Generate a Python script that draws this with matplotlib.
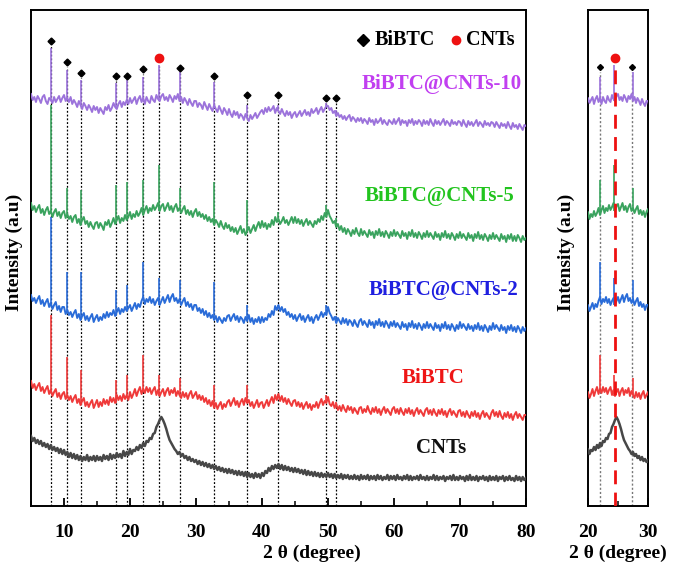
import numpy as np
import matplotlib
matplotlib.use("Agg")
import matplotlib.pyplot as plt
from matplotlib.ticker import MultipleLocator

plt.rcParams['font.family'] = ['Liberation Serif', 'DejaVu Serif']
plt.rcParams['font.weight'] = 'bold'

# 2-theta grid (degrees), 0.25 deg step
two_theta = np.arange(5.0, 80.001, 0.25)

# stacked intensities (a.u., offsets included); rows = 5 degrees
cnts = [70, 65, 68, 63, 66, 62, 65, 60, 63, 59, 62, 57, 61, 56, 59, 55, 58, 53, 57, 52,
        56, 51, 54, 49, 53, 48, 52, 47, 51, 46, 50, 45, 49, 46, 51, 45, 49, 46, 50, 45,
        50, 46, 49, 45, 51, 47, 50, 46, 52, 47, 51, 48, 53, 49, 52, 48, 55, 50, 54, 51,
        57, 52, 56, 55, 59, 56, 61, 58, 63, 60, 65, 64, 68, 67, 72, 73, 79, 82, 86, 89,
        86, 82, 77, 71, 66, 63, 60, 57, 55, 52, 54, 50, 52, 48, 50, 46, 49, 45, 47, 44,
        46, 42, 45, 41, 44, 40, 43, 39, 42, 38, 41, 37, 40, 36, 39, 35, 38, 34, 37, 33,
        37, 33, 36, 32, 35, 31, 35, 31, 34, 30, 34, 29, 33, 29, 32, 28, 33, 29, 32, 28,
        33, 30, 35, 33, 38, 35, 40, 37, 41, 38, 42, 37, 41, 36, 40, 36, 39, 35, 38, 34,
        38, 34, 37, 33, 36, 32, 36, 31, 35, 31, 34, 30, 34, 30, 33, 29, 33, 29, 32, 29,
        33, 29, 32, 28, 32, 28, 31, 28, 32, 27, 31, 28, 31, 27, 30, 27, 31, 27, 30, 26,
        31, 27, 30, 27, 31, 26, 30, 27, 30, 26, 31, 27, 30, 26, 29, 27, 31, 26, 30, 27,
        30, 26, 31, 27, 29, 26, 30, 27, 31, 26, 30, 26, 29, 27, 30, 26, 31, 27, 29, 26,
        30, 26, 29, 27, 31, 26, 30, 26, 29, 27, 30, 25, 29, 27, 30, 26, 31, 26, 29, 26,
        30, 27, 29, 25, 30, 26, 31, 26, 29, 26, 30, 25, 29, 27, 30, 26, 29, 25, 30, 26,
        29, 26, 30, 25, 29, 27, 30, 25, 29, 26, 30, 26, 28, 25, 30, 26, 29, 25, 29, 26,
        28]

bibtc = [125, 118, 122, 116, 120, 123, 115, 119, 113, 117, 120, 112, 116, 110, 114, 117, 109, 113, 107, 112,
         114, 107, 111, 106, 110, 104, 108, 111, 103, 107, 101, 105, 108, 100, 104, 99, 103, 106, 98, 102,
         106, 99, 104, 100, 107, 102, 106, 101, 109, 104, 108, 103, 111, 106, 110, 105, 112, 107, 111, 106,
         114, 108, 112, 117, 110, 115, 119, 112, 117, 113, 119, 114, 118, 112, 116, 119, 111, 116, 110, 114,
         117, 110, 115, 118, 111, 116, 113, 118, 110, 115, 111, 108, 114, 109, 113, 107, 112, 115, 108, 111,
         114, 107, 111, 106, 110, 104, 108, 102, 106, 100, 105, 98, 103, 97, 101, 104, 97, 102, 99, 104,
         106, 100, 104, 108, 101, 105, 99, 104, 107, 101, 108, 103, 106, 100, 104, 98, 102, 106, 99, 103,
         104, 98, 102, 106, 100, 105, 109, 103, 111, 106, 112, 105, 110, 104, 108, 102, 107, 103, 100, 105,
         106, 100, 104, 99, 103, 97, 101, 104, 98, 102, 96, 101, 99, 104, 98, 103, 107, 101, 105, 103,
         109, 102, 100, 104, 98, 102, 96, 100, 95, 101, 97, 94, 100, 96, 99, 93, 98, 95, 92, 98,
         99, 93, 97, 94, 100, 95, 92, 98, 94, 99, 93, 97, 91, 96, 99, 93, 97, 94, 91, 97,
         99, 93, 97, 92, 98, 94, 91, 97, 93, 98, 92, 96, 90, 95, 98, 92, 96, 93, 90, 96,
         98, 92, 96, 91, 97, 93, 90, 96, 92, 97, 91, 95, 89, 94, 97, 91, 95, 92, 89, 95,
         96, 90, 94, 89, 95, 91, 88, 94, 90, 95, 89, 93, 87, 92, 95, 89, 93, 90, 87, 93,
         96, 90, 94, 89, 95, 90, 87, 93, 89, 94, 88, 92, 86, 91, 94, 88, 92, 89, 86, 91,
         91]

cnts2 = [211, 205, 208, 203, 207, 210, 202, 206, 200, 204, 207, 199, 203, 197, 201, 204, 196, 200, 194, 199,
         199, 192, 196, 191, 194, 189, 193, 196, 188, 192, 186, 190, 193, 186, 190, 185, 189, 192, 184, 188,
         191, 185, 189, 186, 192, 188, 194, 189, 193, 191, 196, 190, 194, 198, 192, 197, 194, 199, 195, 198,
         201, 195, 199, 203, 197, 202, 199, 205, 209, 202, 207, 204, 209, 203, 207, 201, 205, 208, 201, 205,
         209, 203, 207, 211, 204, 209, 212, 205, 208, 203, 207, 201, 205, 208, 200, 204, 199, 202, 196, 201,
         201, 195, 198, 193, 197, 191, 195, 189, 193, 188, 191, 186, 190, 184, 189, 186, 183, 188, 185, 190,
         191, 185, 189, 192, 186, 190, 184, 189, 187, 183, 189, 185, 191, 184, 188, 182, 187, 184, 189, 183,
         189, 184, 188, 186, 192, 189, 195, 191, 200, 196, 201, 195, 199, 194, 197, 191, 194, 189, 192, 187,
         191, 185, 189, 192, 186, 190, 184, 188, 191, 185, 189, 183, 188, 191, 186, 190, 194, 189, 193, 191,
         199, 193, 190, 186, 189, 183, 188, 185, 182, 188, 183, 187, 181, 186, 184, 180, 186, 182, 179, 185,
         187, 181, 185, 182, 179, 186, 181, 184, 178, 185, 181, 187, 180, 184, 179, 185, 182, 178, 184, 180,
         185, 179, 183, 180, 177, 184, 179, 182, 176, 183, 179, 185, 178, 182, 177, 183, 180, 176, 182, 178,
         184, 178, 182, 179, 176, 183, 178, 181, 175, 182, 178, 184, 177, 181, 176, 182, 179, 175, 181, 177,
         184, 178, 182, 179, 176, 182, 177, 180, 175, 181, 177, 183, 176, 180, 175, 181, 178, 174, 180, 176,
         183, 177, 181, 178, 175, 181, 176, 179, 173, 180, 176, 181, 175, 179, 174, 180, 177, 173, 179, 175,
         178]

cnts5 = [303, 296, 300, 294, 298, 301, 293, 297, 291, 296, 299, 292, 295, 289, 294, 297, 290, 294, 288, 293,
         295, 288, 292, 287, 290, 284, 289, 291, 283, 287, 281, 286, 289, 282, 285, 279, 284, 280, 277, 283,
         284, 278, 283, 280, 276, 284, 281, 286, 279, 283, 288, 282, 286, 290, 283, 288, 285, 291, 286, 289,
         294, 287, 292, 289, 295, 290, 293, 298, 291, 296, 300, 293, 298, 295, 301, 296, 299, 303, 295, 300,
         302, 295, 299, 303, 296, 300, 294, 299, 302, 295, 298, 293, 297, 300, 292, 296, 291, 295, 289, 294,
         297, 290, 294, 289, 292, 287, 291, 285, 289, 284, 287, 281, 286, 283, 279, 285, 280, 277, 283, 278,
         281, 275, 279, 274, 278, 272, 276, 280, 273, 277, 271, 275, 279, 273, 277, 281, 275, 280, 284, 278,
         285, 279, 283, 277, 282, 279, 286, 281, 289, 284, 287, 282, 285, 289, 283, 286, 281, 285, 289, 283,
         289, 283, 287, 282, 286, 280, 284, 287, 281, 285, 282, 279, 285, 282, 287, 284, 290, 286, 293, 289,
         296, 290, 287, 283, 285, 279, 282, 276, 280, 274, 278, 272, 277, 274, 270, 276, 272, 278, 273, 270,
         277, 271, 275, 272, 269, 276, 271, 274, 268, 275, 271, 277, 270, 274, 269, 275, 272, 268, 274, 270,
         276, 270, 274, 271, 268, 275, 270, 273, 267, 274, 270, 276, 269, 273, 268, 274, 271, 267, 273, 269,
         275, 269, 273, 270, 267, 274, 269, 272, 266, 273, 269, 275, 268, 272, 267, 273, 270, 266, 272, 268,
         274, 268, 272, 269, 266, 273, 268, 271, 265, 272, 268, 274, 267, 271, 266, 272, 269, 265, 271, 267,
         273, 267, 271, 268, 265, 272, 267, 270, 264, 271, 267, 272, 265, 270, 265, 271, 268, 264, 270, 266,
         268]

cnts10 = [412, 406, 409, 404, 410, 407, 403, 409, 411, 405, 402, 408, 406, 403, 409, 404, 407, 410, 404, 408,
          411, 405, 408, 404, 409, 402, 406, 403, 399, 405, 401, 397, 403, 400, 396, 401, 398, 394, 400, 396,
          399, 393, 398, 395, 392, 399, 396, 401, 395, 398, 403, 399, 397, 402, 405, 399, 404, 401, 406, 402,
          408, 403, 406, 409, 402, 407, 410, 404, 408, 402, 409, 405, 403, 410, 406, 404, 411, 407, 405, 410,
          412, 406, 409, 405, 411, 408, 404, 410, 407, 412, 405, 409, 403, 408, 405, 401, 407, 403, 400, 405,
          405, 399, 403, 401, 397, 404, 400, 396, 402, 398, 395, 401, 397, 394, 400, 396, 392, 398, 395, 391,
          397, 392, 389, 395, 391, 394, 388, 392, 390, 386, 392, 388, 385, 391, 387, 390, 393, 388, 391, 394,
          396, 392, 398, 394, 399, 395, 397, 400, 393, 398, 395, 392, 397, 393, 390, 395, 391, 394, 388, 392,
          394, 389, 392, 395, 390, 393, 396, 391, 394, 390, 397, 393, 395, 398, 392, 396, 399, 394, 397, 400,
          400, 396, 398, 393, 395, 390, 393, 389, 391, 387, 390, 386, 389, 391, 385, 389, 387, 384, 388, 385,
          388, 383, 387, 385, 382, 388, 384, 386, 381, 387, 383, 385, 388, 382, 386, 383, 381, 386, 384, 382,
          387, 382, 385, 388, 381, 386, 383, 385, 380, 386, 383, 387, 381, 385, 382, 386, 384, 380, 386, 382,
          385, 381, 387, 383, 380, 386, 382, 385, 381, 384, 387, 381, 385, 383, 380, 386, 382, 384, 381, 385,
          384, 380, 386, 382, 379, 385, 381, 384, 380, 383, 386, 380, 384, 382, 379, 385, 381, 383, 380, 384,
          383, 379, 384, 381, 378, 383, 380, 382, 378, 384, 380, 377, 383, 379, 381, 377, 382, 379, 376, 381,
          380]

# reflection positions (deg)
bibtc_peaks = [8.0, 10.4, 12.5, 17.85, 19.6, 21.95, 27.5, 32.8, 37.7, 42.4, 49.7, 51.2]
cnt_peak = 24.4
spike_pos = [8.0, 10.4, 12.5, 17.85, 19.6, 21.95, 24.4, 27.5, 32.8, 37.7, 42.4, 49.7, 51.2]
# spike tops per sample
top10 = [458, 436, 426, 423, 426, 429, 441, 434, 424, 401, 401, 403, 396]
top5 = [401, 318, 316, 321, 324, 326, 341, 318, 324, 306, 294, 301, 288]
top2 = [289, 234, 234, 216, 221, 244, 228, 226, 224, 201, 200, 201, 190]
top0 = [191, 149, 136, 126, 131, 151, 131, 128, 121, 121, 110, 111, 104]
# marker heights
bibtc_mark = [465, 444, 433, 430, 430, 437, 438, 430, 411, 411, 408, 408]
cnt_mark = 448
inset_peaks = [21.95, 27.4]
inset_mark = [439, 439]

series = [
    ("BiBTC@CNTs-10", cnts10, top10, "#9c73db", "#c13ff0", 1.4),
    ("BiBTC@CNTs-5", cnts5, top5, "#3aa35e", "#22c41e", 1.4),
    ("BiBTC@CNTs-2", cnts2, top2, "#2a6cd8", "#1f1fe0", 1.4),
    ("BiBTC", bibtc, top0, "#ef3a3a", "#ee1515", 1.4),
    ("CNTs", cnts, None, "#474747", "#111111", 1.8),
]
label_pos = [(0.830, 0.850), (0.826, 0.625), (0.834, 0.4355), (0.812, 0.258), (0.828, 0.117)]

fig = plt.figure(figsize=(6.85, 5.75), dpi=100)
ax = fig.add_axes([31/685, 69/575, 495/685, 496/575])
ax2 = fig.add_axes([588/685, 69/575, 60/685, 496/575])

x = np.asarray(two_theta)
for a in (ax, ax2):
    for name, y, tops, c, lc, lw in series:
        y = np.asarray(y, dtype=float)
        a.plot(x, y, color=c, lw=lw, zorder=3)
        if tops is not None:
            base = [y[np.abs(x - p).argmin()] for p in spike_pos]
            a.vlines(spike_pos, base, tops, color=c, lw=1.2, zorder=3)
    a.set_ylim(0, 496)
    a.set_yticks([])
    for s in a.spines.values():
        s.set_linewidth(1.4)
    a.tick_params(axis='x', direction='in', length=6, width=1.3, labelsize=14, pad=13)
    a.tick_params(axis='x', which='minor', direction='in', length=3.5, width=1.1)

# main panel decorations
ax.vlines(bibtc_peaks, 0, np.asarray(bibtc_mark) - 5, colors='black', linestyles=(0, (1.5, 1.5)), lw=0.9, zorder=2)
ax.vlines([cnt_peak], 0, cnt_mark - 8, colors='black', linestyles=(0, (1.5, 1.5)), lw=0.9, zorder=2)
ax.plot(bibtc_peaks, bibtc_mark, 'D', color='black', ms=3.5, zorder=4)
ax.plot([cnt_peak], [cnt_mark], 'o', color='#ee1111', ms=6, zorder=4)
ax.set_xlim(5, 80)
ax.xaxis.set_major_locator(MultipleLocator(10))
ax.xaxis.set_minor_locator(MultipleLocator(5))

for (name, y, tops, c, lc, lw), (px, py) in zip(series, label_pos):
    ax.text(px, py, name, transform=ax.transAxes, color=lc, fontsize=15,
            fontweight='bold', ha='center', va='center')

# legend
ax.plot([0.6707], [0.9395], 'D', color='black', ms=6, transform=ax.transAxes, clip_on=False)
ax.text(0.695, 0.9395, "BiBTC", transform=ax.transAxes, fontsize=14.5, fontweight='bold', va='center')
ax.plot([0.8586], [0.9395], 'o', color='#ee1111', ms=6, transform=ax.transAxes, clip_on=False)
ax.text(0.8788, 0.9395, "CNTs", transform=ax.transAxes, fontsize=14.5, fontweight='bold', va='center')

# inset panel decorations
ax2.vlines(inset_peaks, 0, np.asarray(inset_mark) - 5, colors='#777777', linestyles=(0, (1.5, 1.5)), lw=1.0, zorder=2)
ax2.vlines([24.5], 0, cnt_mark - 8, colors='#ee1111', linestyles=(0, (5, 3)), lw=2.0, zorder=5)
ax2.plot(inset_peaks, inset_mark, 'D', color='black', ms=3, zorder=4)
ax2.plot([24.5], [cnt_mark], 'o', color='#ee1111', ms=6, zorder=6)
ax2.set_xlim(20, 30)
ax2.xaxis.set_major_locator(MultipleLocator(10))
ax2.xaxis.set_minor_locator(MultipleLocator(5))

fig.text(312/685, 1 - 553/575, "2 θ (degree)", fontsize=14, fontweight='bold', ha='center', va='center')
fig.text(618/685, 1 - 553/575, "2 θ (degree)", fontsize=14, fontweight='bold', ha='center', va='center')
fig.text(14/685, 1 - 252/575, "Intensity (a.u)", fontsize=14, fontweight='bold', ha='center', va='center', rotation=90)
fig.text(566/685, 1 - 252/575, "Intensity (a.u)", fontsize=14, fontweight='bold', ha='center', va='center', rotation=90)

fig.savefig("out.png", dpi=100)
